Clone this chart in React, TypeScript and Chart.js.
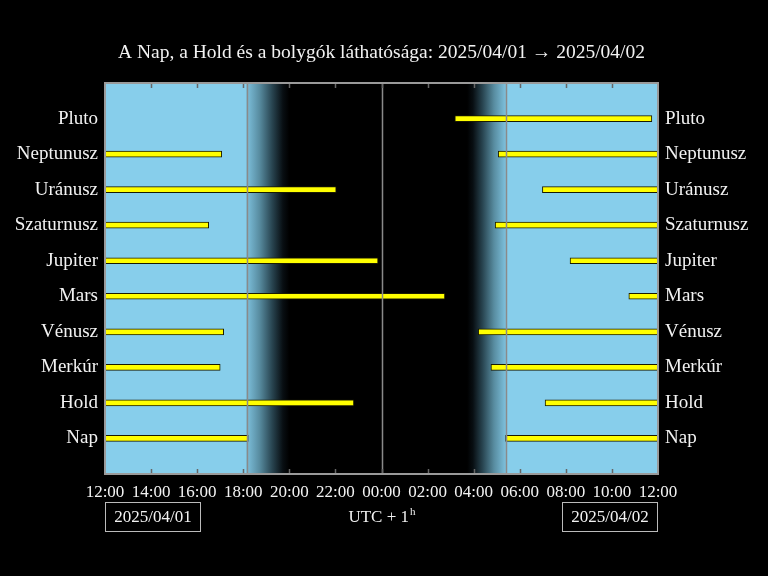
import React, { useEffect, useRef } from "react";
import { Chart, registerables } from "chart.js";

Chart.register(...registerables);

const bodies = ["Nap", "Hold", "Merkúr", "Vénusz", "Mars", "Jupiter", "Szaturnusz", "Uránusz", "Neptunusz", "Pluto"];
// visibility from 12:00 until set (evening part), null = not visible
const eveningEnd: (string | null)[] = ["18:13", "22:48", "17:00", "17:09", "02:45", "23:51", "16:30", "22:02", "17:04", null];
// morning part start/end on the next day
const morningStart = ["05:23", "07:06", "04:45", "04:12", "10:44", "08:11", "04:56", "06:59", "05:04", "03:11"];
const morningEnd = ["12:00", "12:00", "12:00", "12:00", "12:00", "12:00", "12:00", "12:00", "12:00", "11:44"];

const sunsetTime = "18:09";
const duskEndTime = "20:00";
const dawnStartTime = "03:43";
const sunriseTime = "05:23";
const midnightTime = "00:00";

const titleText = "A Nap, a Hold és a bolygók láthatósága: 2025/04/01 → 2025/04/02";
const dateLeft = "2025/04/01";
const dateRight = "2025/04/02";

const FONT = "'Liberation Serif', 'DejaVu Serif', serif";
const TEXT = "#f2f2f2";
const SKY = "rgb(135,206,235)";

function toX(t: string, isEnd = false): number {
  const [h, m] = t.split(":").map(Number);
  let v = h - 12 + m / 60;
  if (v < 0) v += 24;
  if (isEnd && v === 0) v = 24;
  return v;
}

const bgPlugin = {
  id: "bgPlugin",
  beforeDraw(chart: any) {
    const { ctx } = chart;
    ctx.save();
    ctx.fillStyle = "#000";
    ctx.fillRect(0, 0, chart.width, chart.height);
    ctx.restore();
  },
  beforeDatasetsDraw(chart: any) {
    const { ctx, chartArea: a, scales } = chart;
    const x = scales.x;
    const xs = x.getPixelForValue(toX(sunsetTime));
    const xd = x.getPixelForValue(toX(duskEndTime));
    const xa = x.getPixelForValue(toX(dawnStartTime));
    const xr = x.getPixelForValue(toX(sunriseTime));
    const h = a.bottom - a.top;
    ctx.save();
    ctx.fillStyle = SKY;
    ctx.fillRect(a.left, a.top, a.right - a.left, h);
    ctx.fillStyle = "#000";
    ctx.fillRect(xd - 1, a.top, xa - xd + 2, h);
    const g1 = ctx.createLinearGradient(xs, 0, xd, 0);
    g1.addColorStop(0, "rgb(125,192,220)");
    g1.addColorStop(0.3, "rgb(88,140,160)");
    g1.addColorStop(0.6, "rgb(40,68,80)");
    g1.addColorStop(0.85, "rgb(8,14,18)");
    g1.addColorStop(1, "rgb(0,0,0)");
    ctx.fillStyle = g1;
    ctx.fillRect(Math.floor(xs), a.top, Math.ceil(xd - Math.floor(xs)), h);
    const g2 = ctx.createLinearGradient(xa, 0, xr, 0);
    g2.addColorStop(0, "rgb(0,0,0)");
    g2.addColorStop(0.15, "rgb(8,14,18)");
    g2.addColorStop(0.4, "rgb(40,68,80)");
    g2.addColorStop(0.7, "rgb(88,140,160)");
    g2.addColorStop(1, "rgb(125,192,220)");
    ctx.fillStyle = g2;
    ctx.fillRect(Math.floor(xa), a.top, Math.ceil(xr - Math.floor(xa)), h);
    ctx.restore();
  },
  afterDatasetsDraw(chart: any) {
    const { ctx, chartArea: a, scales } = chart;
    const x = scales.x;
    ctx.save();
    ctx.strokeStyle = "#8a8a8a";
    ctx.lineWidth = 1.5;
    [sunsetTime, midnightTime, sunriseTime].forEach((t) => {
      const px = Math.round(x.getPixelForValue(toX(t))) + 0.5;
      ctx.beginPath();
      ctx.moveTo(px, a.top);
      ctx.lineTo(px, a.bottom);
      ctx.stroke();
    });
    ctx.strokeStyle = "#666";
    ctx.lineWidth = 1.5;
    for (let v = 2; v < 24; v += 2) {
      const px = Math.round(x.getPixelForValue(v)) + 0.5;
      ctx.beginPath();
      ctx.moveTo(px, a.top);
      ctx.lineTo(px, a.top + 5);
      ctx.moveTo(px, a.bottom);
      ctx.lineTo(px, a.bottom - 5);
      ctx.stroke();
    }
    ctx.strokeStyle = "#9a9a9a";
    ctx.lineWidth = 2;
    ctx.strokeRect(a.left, a.top, a.right - a.left, a.bottom - a.top);
    ctx.restore();
  },
  afterDraw(chart: any) {
    const { ctx, chartArea: a } = chart;
    const cx = (a.left + a.right) / 2;
    ctx.save();
    ctx.fillStyle = TEXT;
    ctx.textAlign = "center";
    ctx.textBaseline = "middle";
    ctx.font = `19.5px ${FONT}`;
    ctx.fillText(titleText, cx, 53);

    ctx.font = `17px ${FONT}`;
    ctx.strokeStyle = "#bbb";
    ctx.lineWidth = 1;
    const boxW = 95, boxH = 29, boxY = 502.5;
    ctx.strokeRect(a.left + 0.5, boxY, boxW, boxH);
    ctx.fillText(dateLeft, a.left + 0.5 + boxW / 2, boxY + boxH / 2 + 1);
    ctx.strokeRect(a.right - boxW - 0.5, boxY, boxW, boxH);
    ctx.fillText(dateRight, a.right - 0.5 - boxW / 2, boxY + boxH / 2 + 1);

    const main = "UTC + 1";
    const wMain = ctx.measureText(main).width;
    ctx.font = `11px ${FONT}`;
    const wSup = ctx.measureText("h").width;
    const start = cx - (wMain + wSup) / 2;
    ctx.textAlign = "left";
    ctx.font = `17px ${FONT}`;
    ctx.fillText(main, start, 518);
    ctx.font = `11px ${FONT}`;
    ctx.fillText("h", start + wMain + 1, 512);
    ctx.restore();
  },
};

export default function App() {
  const ref = useRef<HTMLCanvasElement>(null);
  useEffect(() => {
    if (!ref.current) return;
    const evening = bodies
      .map((_, i) => (eveningEnd[i] ? { y: i + 1, x: [0, toX(eveningEnd[i] as string)] } : null))
      .filter(Boolean);
    const morning = bodies.map((_, i) => ({
      y: i + 1,
      x: [toX(morningStart[i]), toX(morningEnd[i], true)],
    }));
    const ds = (data: any[]) => ({
      data,
      backgroundColor: "#ffff00",
      borderColor: "#1a1a00",
      borderWidth: 1,
      borderSkipped: false,
      barThickness: 6,
      grouped: false,
    });
    const yCommon = (pos: string, w: number) => ({
      type: "linear",
      position: pos,
      min: 0,
      max: 11,
      offset: false,
      ticks: {
        stepSize: 1,
        autoSkip: false,
        padding: 7,
        color: TEXT,
        font: { family: FONT, size: 19 },
        callback: (v: any) => bodies[Number(v) - 1] ?? "",
      },
      grid: { display: false, drawTicks: false, offset: false },
      border: { display: false },
      afterFit: (s: any) => {
        s.width = w;
      },
    });
    const chart = new Chart(ref.current, {
      type: "bar",
      data: { datasets: [ds(evening as any[]), ds(morning)] as any },
      options: {
        indexAxis: "y",
        responsive: false,
        animation: false,
        devicePixelRatio: 1,
        layout: { padding: { top: 83, left: 0, right: 0, bottom: 0 } },
        plugins: { legend: { display: false }, tooltip: { enabled: false }, title: { display: false } },
        scales: {
          x: {
            type: "linear",
            position: "bottom",
            min: 0,
            max: 24,
            offset: false,
            ticks: {
              stepSize: 2,
              autoSkip: false,
              maxRotation: 0,
              padding: 8,
              color: TEXT,
              font: { family: FONT, size: 17 },
              callback: (v: any) => String((Number(v) + 12) % 24).padStart(2, "0") + ":00",
            },
            grid: { display: false, drawTicks: false },
            border: { display: false },
            afterFit: (s: any) => {
              s.height = 102;
            },
          },
          y: yCommon("left", 105),
          y2: yCommon("right", 110),
        } as any,
      },
      plugins: [bgPlugin],
    } as any);
    return () => chart.destroy();
  }, []);
  return (
    <div style={{ position: "fixed", left: 0, top: 0, width: 768, height: 576, background: "#000" }}>
      <canvas ref={ref} width={768} height={576} style={{ display: "block", width: 768, height: 576 }} />
    </div>
  );
}
